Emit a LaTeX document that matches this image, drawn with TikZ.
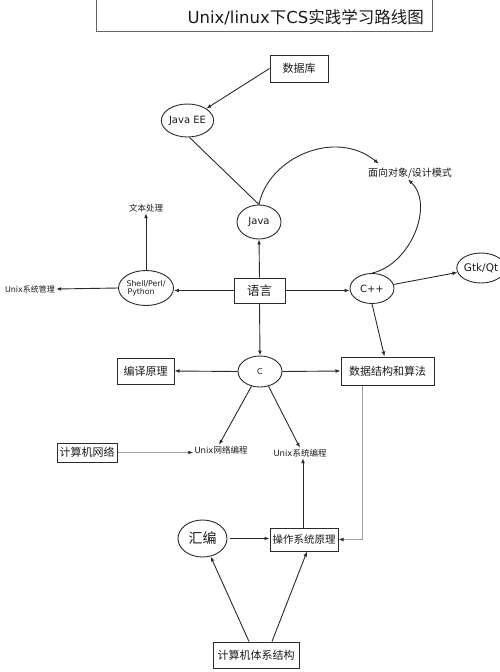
\documentclass[tikz,border=0pt]{standalone}
\usepackage{fontspec}
\setmainfont{DejaVu Sans}
\newfontfamily\cjk{Noto Sans CJK SC}
\usetikzlibrary{shapes.geometric,arrows.meta,calc}
\definecolor{ink}{HTML}{1A1A1A}
\definecolor{lineink}{HTML}{2A2A2A}
\tikzset{
  fs/.style={font=\fontsize{#1}{#1}\selectfont},
  box/.style={draw=lineink, line width=1pt, rectangle, inner sep=0pt, text=ink},
  oval/.style={draw=lineink, line width=0.9pt, ellipse, inner sep=0pt, text=ink},
  lbl/.style={inner sep=1pt, text=ink},
  arr/.style={draw=lineink, line width=0.9pt, -{Latex[length=5pt,width=3.8pt]}},
  plain/.style={draw=lineink, line width=0.9pt},
  greyarr/.style={draw=gray!75, line width=0.9pt, -{Latex[length=5pt,width=3.8pt,color=lineink]}},
}
\begin{document}
\begin{tikzpicture}[x=1pt,y=-1pt]
\useasboundingbox (0,0) rectangle (500,672);
% title
\node[draw=gray!80!black, line width=0.9pt, rectangle, minimum width=336pt, minimum height=34pt, inner sep=0pt] (titlebox) at (264,14.5) {};
\node[lbl, fs=16.5, anchor=east] (title) at (425,17) {Unix/linux{\cjk 下}CS{\cjk 实践学习路线图}};
% boxes
\node[box, minimum width=58pt, minimum height=27pt, fs=11] (db) at (299,68.5) {\cjk 数据库};
\node[box, minimum width=51pt, minimum height=25pt, fs=12.5] (lang) at (259.5,290.5) {\cjk 语言};
\node[box, minimum width=57pt, minimum height=26pt, fs=11] (bianyi) at (145.5,371) {\cjk 编译原理};
\node[box, minimum width=93pt, minimum height=28pt, fs=11] (ds) at (387.5,371) {\cjk 数据结构和算法};
\node[box, minimum width=60pt, minimum height=19pt, fs=11] (net) at (87,452.5) {\cjk 计算机网络};
\node[box, minimum width=68pt, minimum height=23pt, fs=10.5] (os) at (304,539.5) {\cjk 操作系统原理};
\node[box, minimum width=86pt, minimum height=26pt, fs=11] (arch) at (256,655) {\cjk 计算机体系结构};
% ellipses
\node[oval, minimum width=47pt, minimum height=33pt, fs=10] (javaee) at (187.5,120.5) {Java EE};
\node[oval, minimum width=44pt, minimum height=34pt, fs=10] (java) at (259,222) {Java};
\node[oval, minimum width=44pt, minimum height=30pt, fs=10] (cpp) at (372,288.5) {C++};
\node[oval, minimum width=46pt, minimum height=30pt, fs=10.5] (gtk) at (481,268) {Gtk/Qt};
\node[oval, minimum width=45pt, minimum height=35pt, fs=7.8, align=left] (shell) at (146,288) {Shell/Perl/\\\hspace*{1pt}Python};
\node[oval, minimum width=44pt, minimum height=31pt, fs=8] (c) at (260,371.5) {C};
\node[oval, minimum width=49pt, minimum height=37pt, fs=14] (asm) at (202.5,538.5) {\cjk 汇编};
% plain labels
\node[lbl, fs=10] (oop) at (410,173) {\cjk 面向对象/设计模式};
\node[lbl, fs=8.5] (textproc) at (146,208) {\cjk 文本处理};
\node[lbl, fs=8] (unixadmin) at (30,289) {Unix{\cjk 系统管理}};
\node[lbl, fs=8.5] (unixnet) at (221,450) {Unix{\cjk 网络编程}};
\node[lbl, fs=8.5] (unixsys) at (300,453) {Unix{\cjk 系统编程}};
% connectors
\draw[arr] (db.west) -- (javaee);
\draw[plain] ([xshift=2pt]javaee.south) -- (java.north);
\draw[arr] (java.north) .. controls (268,158) and (335,128) .. ([xshift=12pt,yshift=3pt]oop.north west);
\draw[arr] (cpp.north) .. controls (410,265) and (435,205) .. ([xshift=-2pt]oop.south);
\draw[arr] (lang.north) -- (java.south);
\draw[arr] (lang.east) -- (lang.east -| cpp.west);
\draw[arr] (lang.west) -- (lang.west -| shell.east);
\draw[arr] (lang.south) -- (c.north);
\draw[arr] (shell.north) -- (textproc.south);
\draw[arr] (shell.west) -- (unixadmin.east);
\draw[arr] (cpp) -- (gtk);
\draw[arr] (cpp.south) -- ([xshift=-3pt]ds.north);
\draw[arr] (c.west) -- (bianyi.east);
\draw[arr] (c.east) -- (ds.west);
\draw[arr] (c.240) -- ([xshift=-2pt]unixnet.north);
\draw[arr] (c.300) -- (unixsys.north);
\draw[greyarr] (net.east) -- (net.east -| unixnet.west);
\draw[greyarr] ([xshift=-25.5pt]ds.south) |- (os.east);
\draw[arr] ([xshift=-1pt]os.north) -- ([xshift=-1pt]os.north |- unixsys.south);
\draw[arr, shorten <=3pt] (asm.east) -- (asm.east -| os.west);
\draw[arr] ([xshift=-7pt]arch.north) -- (asm);
\draw[arr] ([xshift=16pt]arch.north) -- ([xshift=3pt]os.south);
\end{tikzpicture}
\end{document}
